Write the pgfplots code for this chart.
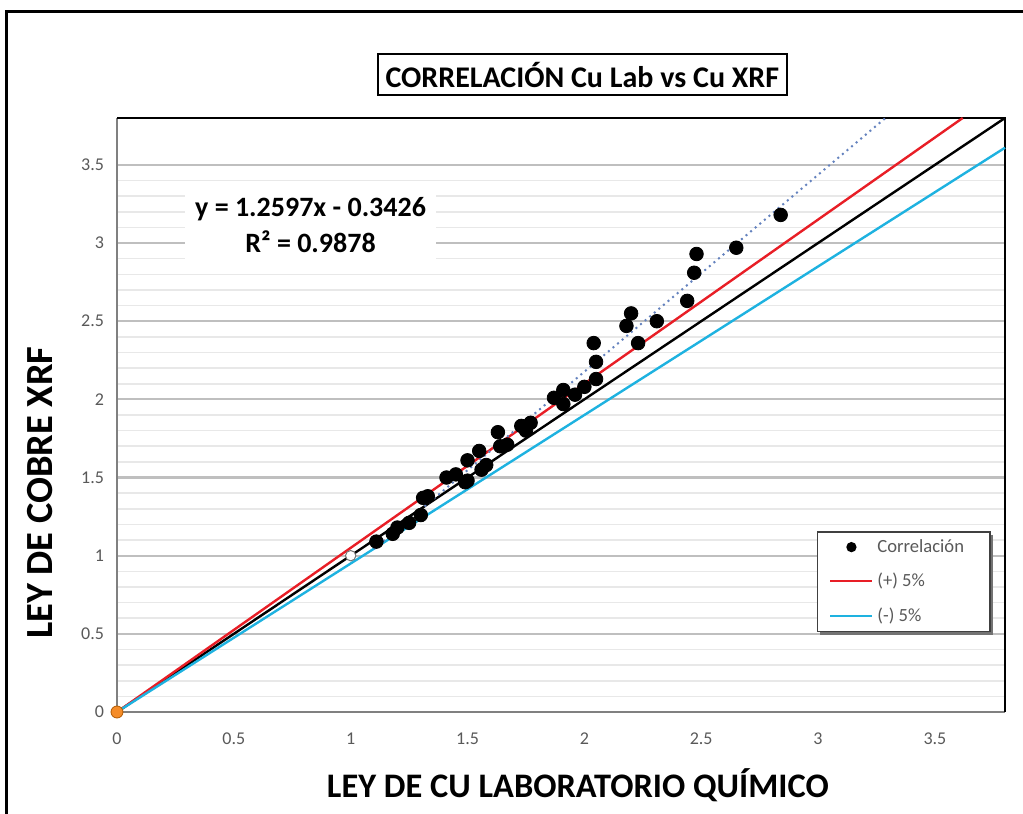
\documentclass[border=0pt]{standalone}
\usepackage{fontspec}
\setmainfont{Carlito}
\usepackage{pgfplots}
\pgfplotsset{compat=1.18}
\usepackage{pgfplotstable}

\definecolor{limitred}{RGB}{232,30,38}
\definecolor{limitcyan}{RGB}{30,178,224}
\definecolor{trendblue}{RGB}{100,130,190}
\definecolor{ticktext}{RGB}{89,89,89}
\definecolor{origorange}{RGB}{245,140,40}

% Cu lab (x) vs Cu XRF (y)
\pgfplotstableread{
x    y
1.11 1.09
1.18 1.14
1.20 1.18
1.25 1.21
1.30 1.26
1.31 1.37
1.33 1.38
1.41 1.50
1.45 1.52
1.49 1.47
1.50 1.48
1.50 1.61
1.55 1.67
1.56 1.55
1.58 1.58
1.63 1.79
1.64 1.70
1.67 1.71
1.73 1.83
1.75 1.80
1.77 1.85
1.87 2.01
1.91 2.06
1.91 1.97
1.96 2.03
2.00 2.08
2.05 2.13
2.05 2.24
2.04 2.36
2.18 2.47
2.20 2.55
2.23 2.36
2.31 2.50
2.44 2.63
2.47 2.81
2.48 2.93
2.65 2.97
2.84 3.18
}\cudata

\begin{document}
\begin{tikzpicture}
\useasboundingbox (0,0) rectangle (511.5pt,407pt);
% chart frame
\draw[line width=1.5pt] (3pt,-20pt) -- (3pt,401pt) -- (530pt,401pt);
\begin{axis}[
  at={(58.5pt,51pt)}, anchor=south west,
  scale only axis, width=444pt, height=297pt,
  xmin=0, xmax=3.8, ymin=0, ymax=3.8,
  clip=false,
  xtick={0,0.5,...,3.5}, ytick={0,0.5,...,3.5},
  minor y tick num=4,
  ymajorgrids, yminorgrids,
  major grid style={draw=black!25, line width=1.1pt},
  minor grid style={draw=black!9, line width=0.8pt},
  major tick length=0pt, minor tick length=0pt,
  axis line style={draw=none},
  /pgf/number format/assume math mode=true,
  ticklabel style={font=\fontsize{9}{10}\selectfont, text=ticktext},
  yticklabel style={xshift=-3pt},
  xticklabel style={yshift=-7pt},
  xlabel={LEY DE CU LABORATORIO QUÍMICO},
  ylabel={LEY DE COBRE XRF},
  x label style={at={(axis description cs:0.519,-0.123)}, anchor=center,
    font=\bfseries\fontsize{17.2}{20}\selectfont},
  y label style={at={(axis description cs:-0.0867,0.369)}, anchor=center,
    font=\bfseries\fontsize{19.2}{22}\selectfont},
  legend style={at={(0.788,0.1347)}, anchor=south west,
    draw=black!75, line width=0.7pt, fill=white,
    font=\fontsize{9.3}{11}\selectfont, text=ticktext,
    inner xsep=6pt, inner ysep=1.5pt, row sep=5pt},
  legend cell align=left,
]
% plot frame
\draw[black!50, line width=1.2pt] (rel axis cs:0,1) -- (rel axis cs:0,0) -- (rel axis cs:1,0);
\draw[black, line width=1.1pt] (rel axis cs:0,1) -- (rel axis cs:1,1) -- (rel axis cs:1,0);

% reference lines: 1:1 and +/- 5 %
\addplot[forget plot, black, line width=1.2pt] coordinates {(0,0) (3.8,3.8)};
\addplot[forget plot, limitred, line width=1.2pt] coordinates {(0,0) (3.6190,3.8)};
\addplot[forget plot, limitcyan, line width=1.2pt] coordinates {(0,0) (3.8,3.61)};

% linear trend y = 1.2597x - 0.3426
\addplot[forget plot, trendblue, dotted, line width=1pt] coordinates {(1.1,1.04307) (3.28856,3.8)};

% measurements
\addplot[forget plot, only marks, mark=*, mark size=3.4pt, black] table[x=x, y=y] {\cudata};
\addplot[forget plot, only marks, mark=*, mark size=2.6pt, mark options={fill=white, draw=black!55, line width=0.5pt}] coordinates {(1,1)};
\addplot[forget plot, only marks, mark=*, mark size=3pt, mark options={fill=origorange, draw=orange!70!black}] coordinates {(0,0)};

% legend shadow
\fill[black!55] (axis description cs:0.7915,0.129) rectangle (axis description cs:0.9865,0.298);

% legend
\addlegendimage{legend image code/.code={\fill[black] (10.5pt,0pt) circle (2.2pt);}}
\addlegendentry{Correlación\kern5pt}
\addlegendimage{legend image code/.code={\draw[limitred, line width=1pt] (0pt,0pt) -- (21pt,0pt);}}
\addlegendentry{(+) 5\%}
\addlegendimage{legend image code/.code={\draw[limitcyan, line width=1pt] (0pt,0pt) -- (21pt,0pt);}}
\addlegendentry{(-) 5\%}

% title and fit equation
\node[draw=black, line width=1pt, fill=white, inner xsep=4pt, minimum height=20.5pt,
      font=\bfseries\fontsize{15}{18}\selectfont] at (axis description cs:0.524,1.073)
      {CORRELACIÓN Cu Lab vs Cu XRF};
\node[fill=white, align=center, inner sep=5pt,
      font=\bfseries\fontsize{14}{18}\selectfont] at (axis description cs:0.218,0.82)
      {y = 1.2597x - 0.3426\\R² = 0.9878};
\end{axis}
\end{tikzpicture}
\end{document}
